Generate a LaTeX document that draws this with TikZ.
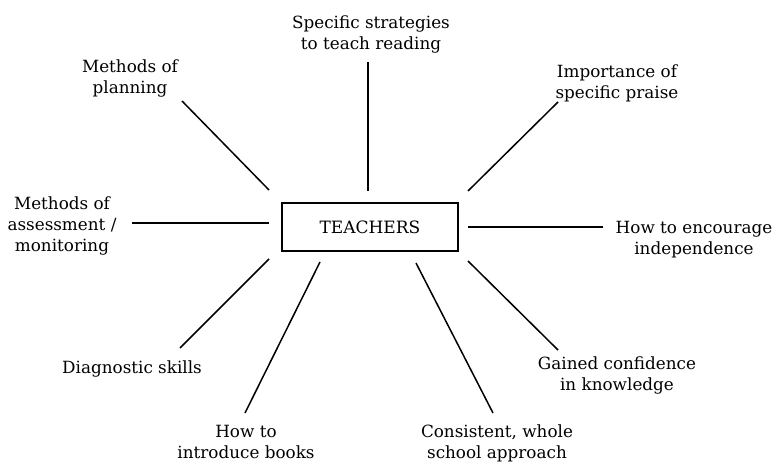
\documentclass[tikz,border=0pt]{standalone}
\usepackage{fontspec}
\setmainfont{DejaVu Serif}
\begin{document}
\begin{tikzpicture}[x=1pt,y=-1pt,
  lbl/.style={align=center,inner sep=0pt,font=\fontsize{16.8}{21}\selectfont},
  spoke/.style={line width=1.5pt},
  centrebox/.style={draw,line width=1.5pt,minimum width=176pt,minimum height=48pt,inner sep=0pt,font=\fontsize{17}{20}\selectfont}]
\useasboundingbox (0,0) rectangle (776,465);
\node[centrebox] (T) at (370,227) {TEACHERS};
\node[lbl] (top) at (371,34) {Specific strategies\\to teach reading};
\node[lbl] (plan) at (130,78) {Methods of\\planning};
\node[lbl] (praise) at (617,83) {Importance of\\specific praise};
\node[lbl] (indep) at (694,240) {How to encourage\\independence};
\node[lbl] (assess) at (62,226) {Methods of\\assessment /\\monitoring};
\node[lbl] (diag) at (132,369) {Diagnostic skills};
\node[lbl] (books) at (246,442) {How to\\introduce books};
\node[lbl] (cons) at (497,443) {Consistent, whole\\school approach};
\node[lbl] (gain) at (617,375) {Gained confidence\\in knowledge};
% spoke end points
\coordinate (a1) at (368,62);  \coordinate (a2) at (368,191);
\coordinate (b1) at (182,101); \coordinate (b2) at (269,190);
\coordinate (c1) at (558,102); \coordinate (c2) at (468,191);
\coordinate (d1) at (603,227); \coordinate (d2) at (468,227);
\coordinate (e1) at (132,223); \coordinate (e2) at (269,223);
\coordinate (f1) at (180,348); \coordinate (f2) at (269,259);
\coordinate (g1) at (245,413); \coordinate (g2) at (320,262);
\coordinate (h1) at (493,413); \coordinate (h2) at (416,263);
\coordinate (i1) at (558,350); \coordinate (i2) at (468,261);
\draw[spoke] (a1) -- (a2);
\draw[spoke] (b1) -- (b2);
\draw[spoke] (c1) -- (c2);
\draw[spoke] (d1) -- (d2);
\draw[spoke] (e1) -- (e2);
\draw[spoke] (f1) -- (f2);
\draw[spoke] (g1) -- (g2);
\draw[spoke] (h1) -- (h2);
\draw[spoke] (i1) -- (i2);
\end{tikzpicture}
\end{document}
